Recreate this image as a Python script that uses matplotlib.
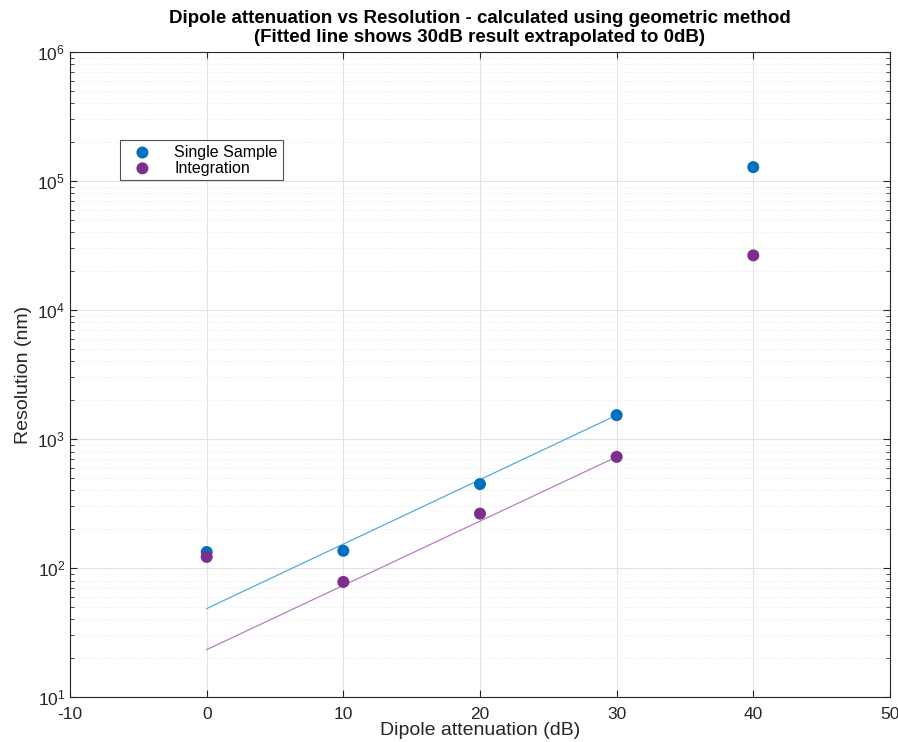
import numpy as np
import matplotlib
matplotlib.use("Agg")
import matplotlib.pyplot as plt
from matplotlib.ticker import LogLocator, NullFormatter

plt.rcParams['font.family'] = ['Liberation Sans', 'DejaVu Sans']
plt.rcParams['mathtext.fontset'] = 'custom'
plt.rcParams['mathtext.rm'] = 'Liberation Sans'
plt.rcParams['axes.unicode_minus'] = False

# measured points (attenuation in dB, resolution in nm)
atten = [0, 10, 20, 30, 40]
single_sample = [133, 136, 447, 1530, 128000]
integration = [122, 78, 264, 727, 26500]

# fitted lines: 30dB result extrapolated back to 0dB
fit_x = [0, 30]
fit_single = [48.5, 1530]
fit_integ = [23.3, 727]

blue = '#0072BD'
purple = '#7E2F8E'

fig = plt.figure(figsize=(8.98, 7.42), dpi=100)
ax = fig.add_axes([0.078, 0.0606, 0.913, 0.8694])

ax.plot(fit_x, fit_single, color='#55aadd', lw=0.9, zorder=2)
ax.plot(fit_x, fit_integ, color='#b77fc2', lw=0.9, zorder=2)
ax.scatter(atten, single_sample, s=75, color=blue, label='Single Sample', zorder=3, edgecolors='none')
ax.scatter(atten, integration, s=75, color=purple, label='Integration', zorder=3, edgecolors='none')

ax.set_yscale('log')
ax.set_xlim(-10, 50)
ax.set_ylim(10, 1e6)
ax.set_xticks(np.arange(-10, 51, 10))
ax.yaxis.set_major_locator(LogLocator(base=10, numticks=10))
ax.yaxis.set_minor_locator(LogLocator(base=10, subs=np.arange(2, 10), numticks=20))
ax.yaxis.set_minor_formatter(NullFormatter())

ax.grid(True, which='major', color='#e3e3e3', lw=0.8)
ax.grid(True, which='minor', axis='y', color='#ececec', lw=0.6, ls=(0, (2, 2)))
ax.set_axisbelow(True)

ax.tick_params(which='both', direction='in', top=True, right=True, labelsize=12.5, colors='#262626')
ax.tick_params(which='major', length=5)
ax.tick_params(which='minor', length=3)
ax.tick_params(axis='x', pad=7)
for sp in ax.spines.values():
    sp.set_color('#262626')
    sp.set_linewidth(0.8)

ax.set_xlabel('Dipole attenuation (dB)', fontsize=14, color='#262626', labelpad=0)
ax.set_ylabel('Resolution (nm)', fontsize=14, color='#262626', labelpad=4)
ax.set_title('Dipole attenuation vs Resolution - calculated using geometric method\n'
             '(Fitted line shows 30dB result extrapolated to 0dB)',
             fontsize=13.5, fontweight='bold', pad=7, linespacing=1.2)

leg = ax.legend(loc='upper left', bbox_to_anchor=(0.061, 0.8636), fontsize=11.5,
                frameon=True, fancybox=False, borderpad=0.3, handletextpad=0.9,
                labelspacing=0.05, borderaxespad=0, handlelength=2.2)
leg.get_frame().set_edgecolor('#262626')
leg.get_frame().set_linewidth(0.8)

fig.savefig('out.png', dpi=100)
